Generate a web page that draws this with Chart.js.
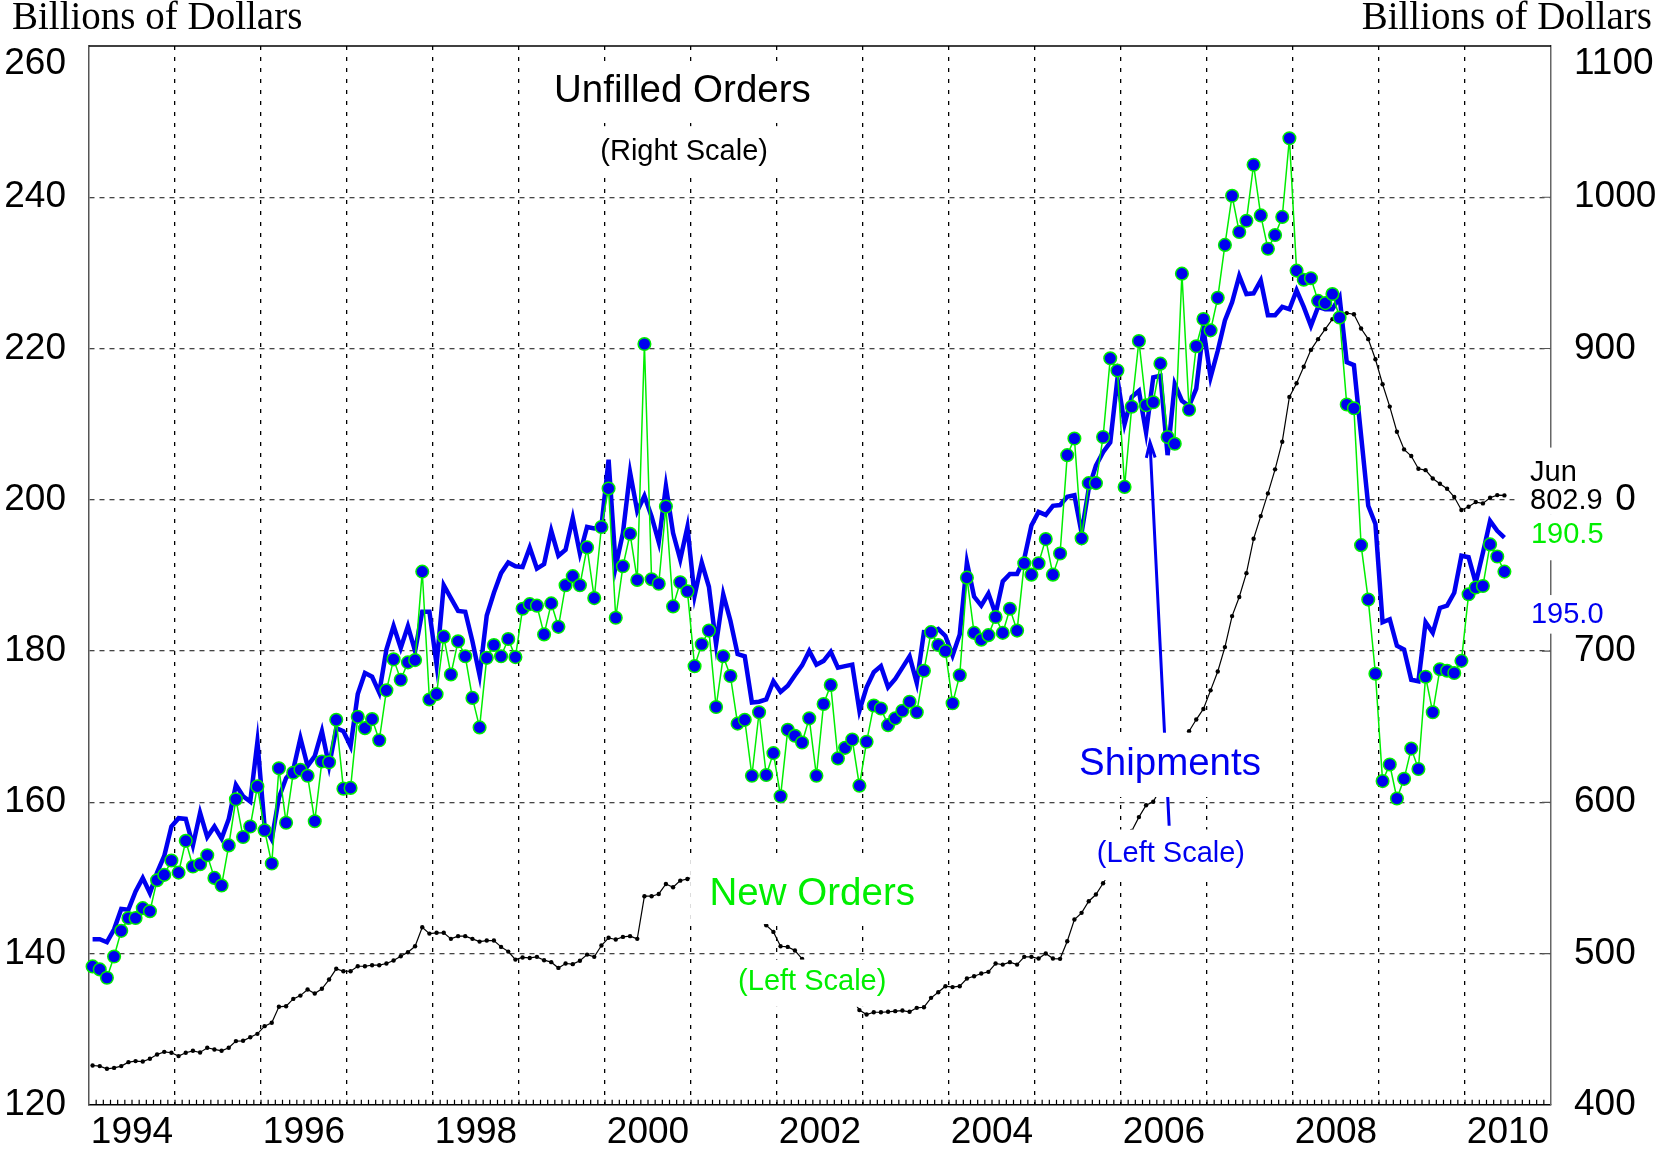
<!DOCTYPE html>
<html>
<head>
<meta charset="utf-8">
<title>Unfilled Orders, New Orders and Shipments</title>
<script src="https://cdn.jsdelivr.net/npm/chart.js@4.4.0/dist/chart.umd.min.js"></script>
<style>
  html, body { margin: 0; padding: 0; background: #fff; }
  #wrap { width: 1660px; height: 1150px; }
</style>
</head>
<body>
<div id="wrap"><canvas id="chart" width="1660" height="1150"></canvas></div>
<script>
// Monthly series, Jan 1994 - Jun 2010, billions of dollars
const firstYear = 1994;
const monthNames = ['Jan', 'Feb', 'Mar', 'Apr', 'May', 'Jun', 'Jul', 'Aug', 'Sep', 'Oct', 'Nov', 'Dec'];

// New Orders (left scale)
const newOrders = [
    138.3, 137.9, 136.8, 139.6, 143.0, 144.7, 144.7, 146.0, 145.6, 149.7, 150.4, 152.3,
    150.7, 154.9, 151.5, 151.8, 153.0, 150.0, 149.0, 154.3, 160.4, 155.4, 156.8, 162.1,
    156.3, 151.9, 164.5, 157.3, 163.9, 164.3, 163.5, 157.5, 165.4, 165.3, 170.9, 161.8,
    161.9, 171.3, 169.8, 171.0, 168.2, 174.8, 178.9, 176.2, 178.5, 178.8, 190.5, 173.6,
    174.3, 181.9, 176.9, 181.3, 179.3, 173.8, 169.9, 179.1, 180.8, 179.3, 181.6, 179.2,
    185.6, 186.2, 186.0, 182.2, 186.3, 183.2, 188.7, 189.9, 188.7, 193.7, 187.0, 196.4,
    201.5, 184.4, 191.2, 195.5, 189.4, 220.6, 189.5, 188.9, 199.1, 185.9, 189.1, 187.9,
    178.0, 180.9, 182.7, 172.6, 179.3, 176.7, 170.4, 170.9, 163.5, 171.9, 163.6, 166.5,
    160.8, 169.6, 168.8, 167.9, 171.1, 163.5, 173.0, 175.5, 165.8, 167.2, 168.3, 162.2,
    168.0, 172.8, 172.4, 170.2, 171.1, 172.1, 173.3, 171.9, 177.4, 182.5, 180.8, 180.0,
    173.1, 176.8, 189.7, 182.4, 181.5, 182.1, 184.5, 182.4, 185.6, 182.7, 191.6, 190.1,
    191.6, 194.8, 190.1, 192.9, 205.9, 208.1, 194.9, 202.2, 202.2, 208.3, 218.7, 217.1,
    201.7, 212.3, 221.0, 212.5, 212.9, 218.0, 208.3, 207.4, 229.9, 211.9, 220.3, 223.9,
    222.4, 226.7, 233.7, 240.2, 235.4, 236.9, 244.3, 237.6, 233.2, 235.0, 237.4, 247.8,
    230.3, 229.1, 229.3, 226.3, 226.0, 227.2, 224.1, 212.6, 212.1, 194.0, 186.8, 177.0,
    162.8, 165.0, 160.5, 163.1, 167.1, 164.4, 176.6, 171.9, 177.6, 177.4, 177.1, 178.7,
    187.5, 188.4, 188.6, 194.1, 192.5, 190.5
];

// Shipments (left scale)
const shipments = [
    141.9, 141.9, 141.5, 143.2, 145.9, 145.8, 148.2, 150.0, 148.0, 150.7, 152.9, 156.8,
    157.9, 157.8, 154.3, 158.6, 155.4, 156.8, 155.2, 157.8, 162.3, 160.8, 160.1, 168.0,
    156.8, 155.1, 160.6, 163.2, 164.3, 168.5, 164.8, 166.1, 169.4, 164.8, 169.8, 169.4,
    167.4, 174.3, 177.1, 176.6, 174.5, 180.2, 183.3, 180.4, 183.3, 180.0, 185.2, 185.2,
    178.2, 188.7, 187.0, 185.3, 185.2, 181.3, 176.8, 184.7, 187.7, 190.3, 191.7, 191.2,
    191.1, 193.7, 190.9, 191.5, 195.9, 192.6, 193.4, 197.6, 192.9, 196.4, 196.2, 196.5,
    205.3, 191.2, 195.6, 203.6, 198.5, 200.5, 197.8, 194.4, 201.8, 195.6, 192.1, 196.4,
    187.3, 191.7, 188.5, 180.9, 187.5, 184.0, 179.6, 179.3, 173.2, 173.3, 173.6, 176.0,
    174.6, 175.4, 176.8, 178.1, 180.0, 178.2, 178.7, 179.9, 177.8, 178.0, 178.2, 172.1,
    175.2, 177.2, 178.0, 175.2, 176.3, 177.8, 179.3, 175.8, 182.5, 182.4, 182.9, 182.0,
    179.4, 182.2, 191.7, 187.2, 186.0, 187.6, 184.9, 189.2, 190.2, 190.2, 192.2, 196.6,
    198.4, 198.0, 199.2, 199.3, 200.4, 200.6, 195.6, 201.5, 204.5, 206.3, 207.6, 216.0,
    210.0, 213.6, 214.4, 208.9, 216.2, 216.4, 205.9, 215.3, 213.1, 212.4, 214.7, 222.6,
    216.2, 219.7, 223.7, 226.1, 229.6, 227.2, 227.3, 229.0, 224.4, 224.4, 225.5, 225.2,
    227.7, 225.5, 223.0, 225.5, 225.2, 225.2, 226.8, 218.2, 217.8, 208.5, 199.2, 196.8,
    183.8, 184.2, 180.7, 180.2, 176.2, 176.0, 183.8, 182.4, 185.7, 186.0, 187.7, 192.6,
    192.4, 189.0, 193.0, 197.2, 195.9, 195.0
];

// Unfilled Orders (right scale)
const unfilledOrders = [
    426.0, 425.6, 423.8, 424.4, 425.6, 428.2, 428.9, 428.6, 430.4, 433.3, 435.0, 434.4,
    432.2, 434.4, 435.7, 434.6, 437.7, 436.6, 435.7, 437.7, 442.1, 442.3, 444.7, 446.9,
    452.0, 454.2, 464.8, 465.2, 470.0, 472.2, 476.2, 473.6, 476.7, 482.8, 489.9, 488.3,
    488.3, 491.6, 491.6, 492.3, 492.3, 493.4, 495.4, 498.2, 500.9, 504.8, 517.4, 513.2,
    513.7, 513.7, 509.7, 511.5, 511.5, 509.7, 507.9, 508.6, 508.6, 504.4, 501.3, 496.0,
    497.4, 497.1, 497.8, 495.6, 494.3, 490.5, 493.4, 493.0, 495.2, 499.3, 497.8, 505.3,
    510.4, 509.3, 511.0, 511.5, 509.7, 537.9, 537.9, 539.4, 546.0, 543.8, 548.2, 549.3,
    551.0, 553.0, 552.0, 550.0, 547.0, 543.0, 538.0, 532.0, 526.0, 522.0, 518.7, 514.3,
    504.8, 504.4, 502.0, 496.5, 493.0, 489.0, 485.0, 481.0, 477.0, 473.0, 470.0, 462.6,
    459.7, 461.2, 461.2, 461.5, 461.9, 462.3, 461.5, 464.1, 464.5, 470.7, 474.4, 478.4,
    477.8, 478.4, 483.5, 485.0, 486.8, 487.9, 493.4, 492.7, 494.3, 492.7, 497.8, 497.8,
    496.7, 500.0, 496.7, 496.5, 508.1, 522.5, 526.9, 534.6, 539.0, 546.5, 554.0, 563.0,
    572.0, 581.0, 590.2, 598.0, 600.4, 609.0, 619.0, 628.0, 638.0, 647.0, 654.7, 661.7,
    674.0, 686.5, 702.6, 723.1, 735.7, 751.5, 774.2, 789.2, 804.2, 820.1, 838.4, 868.0,
    877.0, 887.9, 899.1, 906.2, 912.8, 919.4, 923.4, 923.4, 922.7, 913.2, 906.2, 892.9,
    876.4, 861.6, 845.0, 833.3, 828.9, 820.5, 819.6, 814.1, 810.6, 807.3, 801.8, 793.2,
    795.4, 798.5, 797.6, 801.3, 803.1, 802.9
];

// Axis ticks
const yearTicks = [1994, 1995, 1996, 1997, 1998, 1999, 2000, 2001, 2002, 2003,
                   2004, 2005, 2006, 2007, 2008, 2009, 2010, 2011];
const yearLabels = [1994, 1996, 1998, 2000, 2002, 2004, 2006, 2008, 2010];
const leftTicks = [120, 140, 160, 180, 200, 220, 240, 260];
const rightTicks = [400, 500, 600, 700, 800, 900, 1000, 1100];

const GREEN = '#00ee00';
const BLUE = '#0000f0';
const SANS = "'Liberation Sans', Arial, sans-serif";
const SERIF = "'Liberation Serif', 'Times New Roman', serif";

Chart.defaults.font.family = SANS;
Chart.defaults.color = '#000';

// month i is plotted in the middle of its month
const toPoints = arr => arr.map((v, i) => ({ x: firstYear + (i + 0.5) / 12, y: v }));

const lastIdx = unfilledOrders.length - 1;

// text notes, anchored in (year, left-scale value)
const notes = [
    { text: 'Unfilled Orders', x: 2000.90, y: 252.6, size: 38.5, color: '#000', align: 'center' },
    { text: '(Right Scale)', x: 2000.92, y: 244.9, size: 29, color: '#000', align: 'center' },
    { text: 'New Orders', x: 2002.41, y: 146.4, size: 38.5, color: GREEN, align: 'center' },
    { text: '(Left Scale)', x: 2002.41, y: 135.2, size: 29, color: GREEN, align: 'center' },
    { text: 'Shipments', x: 2006.57, y: 163.6, size: 38.5, color: BLUE, align: 'center' },
    { text: '(Left Scale)', x: 2006.58, y: 152.1, size: 29, color: BLUE, align: 'center' },
    { text: monthNames[lastIdx % 12], x: 2010.756, y: 202.5, size: 29, color: '#000', align: 'left' },
    { text: unfilledOrders[lastIdx].toFixed(1), x: 2010.756, y: 198.8, size: 29, color: '#000', align: 'left' },
    { text: newOrders[lastIdx].toFixed(1), x: 2010.767, y: 194.3, size: 29, color: GREEN, align: 'left' },
    { text: shipments[lastIdx].toFixed(1), x: 2010.767, y: 183.7, size: 29, color: BLUE, align: 'left' }
];

// white boxes behind the notes: [x0, x1, yTop, yBottom] in (year, left value)
const noteBoxes = [
    [1999.34, 2002.48, 257.9, 249.95],
    [1999.83, 2002.04, 249.4, 242.6],
    [2000.99, 2003.77, 152.4, 143.9],
    [2001.43, 2003.37, 139.2, 132.95],
    [2005.41, 2007.73, 169.2, 160.7],
    [2005.66, 2007.50, 156.4, 149.7],
    [2010.58, 2011.75, 206.9, 198.0],
    [2010.58, 2011.75, 198.0, 192.0],
    [2010.58, 2011.66, 187.4, 182.3]
];

// arrow from "Shipments" up to the line: tail and tip in (year, left value)
const arrowTail = { x: 2006.56, y: 156.9 };
const arrowTip = { x: 2006.337, y: 207.6 };

const decorations = {
    id: 'decorations',
    beforeDraw(chart) {
        const ctx = chart.ctx;
        ctx.save();
        ctx.fillStyle = '#fff';
        ctx.fillRect(0, 0, chart.width, chart.height);
        ctx.restore();
    },
    afterDraw(chart) {
        const { ctx, chartArea: a } = chart;
        const xs = chart.scales.x, ys = chart.scales.y, ys2 = chart.scales.y2;
        const px = v => xs.getPixelForValue(v);
        const py = v => ys.getPixelForValue(v);

        ctx.save();

        // top frame line
        ctx.strokeStyle = '#000';
        ctx.lineWidth = 1.5;
        ctx.beginPath();
        ctx.moveTo(a.left, a.top);
        ctx.lineTo(a.right, a.top);
        ctx.stroke();

        // monthly minor ticks on the bottom axis
        ctx.lineWidth = 1.2;
        ctx.beginPath();
        for (let m = 1; m < (yearTicks.length - 1) * 12; m++) {
            const x = px(firstYear + m / 12);
            ctx.moveTo(x, a.bottom);
            ctx.lineTo(x, a.bottom - 5);
        }
        ctx.stroke();

        // short inward ticks on the right axis
        ctx.strokeStyle = '#555';
        ctx.beginPath();
        rightTicks.slice(1, -1).forEach(v => {
            const y = ys2.getPixelForValue(v);
            ctx.moveTo(a.right - 9, y);
            ctx.lineTo(a.right, y);
        });
        ctx.stroke();

        // arrow
        const tx = px(arrowTip.x), ty = py(arrowTip.y);
        const sx = px(arrowTail.x), sy = py(arrowTail.y);
        const ang = Math.atan2(sy - ty, sx - tx);
        ctx.strokeStyle = BLUE;
        ctx.lineWidth = 3;
        ctx.beginPath();
        ctx.moveTo(sx, sy);
        ctx.lineTo(tx, ty);
        ctx.moveTo(tx + 16 * Math.cos(ang - 0.28), ty + 16 * Math.sin(ang - 0.28));
        ctx.lineTo(tx, ty);
        ctx.lineTo(tx + 16 * Math.cos(ang + 0.28), ty + 16 * Math.sin(ang + 0.28));
        ctx.stroke();

        // white boxes under the notes
        ctx.fillStyle = '#fff';
        noteBoxes.forEach(b => {
            const x0 = px(b[0]), x1 = px(b[1]), y0 = py(b[2]), y1 = py(b[3]);
            ctx.fillRect(x0, y0, x1 - x0, y1 - y0);
        });

        // notes
        ctx.textBaseline = 'alphabetic';
        notes.forEach(n => {
            ctx.font = n.size + 'px ' + SANS;
            ctx.fillStyle = n.color;
            ctx.textAlign = n.align;
            ctx.fillText(n.text, px(n.x), py(n.y));
        });

        // top tick labels sit inside the axis height
        ctx.font = '37px ' + SANS;
        ctx.fillStyle = '#000';
        ctx.textAlign = 'right';
        ctx.fillText(String(leftTicks[leftTicks.length - 1]), a.left - 23, py(leftTicks[leftTicks.length - 1]) + 28);
        ctx.textAlign = 'left';
        ctx.fillText(String(rightTicks[rightTicks.length - 1]), a.right + 23, ys2.getPixelForValue(rightTicks[rightTicks.length - 1]) + 28);

        // unit titles
        ctx.font = '39px ' + SERIF;
        ctx.textAlign = 'left';
        ctx.fillText('Billions of Dollars', 12, 29);
        ctx.textAlign = 'right';
        ctx.fillText('Billions of Dollars', chart.width - 8, 29);

        ctx.restore();
    }
};

const edgeTick = (ctx, lo, hi) => ctx.tick && (ctx.tick.value === lo || ctx.tick.value === hi);

new Chart(document.getElementById('chart'), {
    type: 'line',
    data: {
        datasets: [
            {
                label: 'New Orders',
                data: toPoints(newOrders),
                yAxisID: 'y',
                borderColor: GREEN,
                borderWidth: 1.5,
                pointRadius: 6.3,
                pointBackgroundColor: BLUE,
                pointBorderColor: GREEN,
                pointBorderWidth: 1.5,
                tension: 0,
                clip: false
            },
            {
                label: 'Shipments',
                data: toPoints(shipments),
                yAxisID: 'y',
                borderColor: BLUE,
                borderWidth: 4.5,
                borderJoinStyle: 'miter',
                pointRadius: 0,
                tension: 0,
                clip: false
            },
            {
                label: 'Unfilled Orders',
                data: toPoints(unfilledOrders),
                yAxisID: 'y2',
                borderColor: '#000',
                borderWidth: 1.2,
                pointRadius: 2.2,
                pointBackgroundColor: '#000',
                pointBorderWidth: 0,
                tension: 0,
                clip: false
            }
        ]
    },
    options: {
        responsive: false,
        devicePixelRatio: 1,
        animation: false,
        events: [],
        layout: { padding: { top: 46, left: 0, right: 0, bottom: 0 } },
        plugins: {
            legend: { display: false },
            tooltip: { enabled: false },
            title: { display: false }
        },
        scales: {
            x: {
                type: 'linear',
                min: yearTicks[0],
                max: yearTicks[yearTicks.length - 1],
                afterBuildTicks: s => { s.ticks = yearTicks.map(v => ({ value: v })); },
                afterFit: s => { s.height = 45; },
                grid: {
                    color: ctx => edgeTick(ctx, yearTicks[0], yearTicks[yearTicks.length - 1]) ? 'rgba(0,0,0,0)' : '#000',
                    lineWidth: 1.3,
                    drawTicks: false
                },
                border: { display: true, color: '#000', width: 1.5, dash: [4, 7] },
                ticks: {
                    callback: v => yearLabels.includes(v) ? String(v) : '',
                    font: { size: 37 },
                    color: '#000',
                    padding: 6,
                    labelOffset: 43,
                    autoSkip: false,
                    maxRotation: 0
                }
            },
            y: {
                position: 'left',
                min: leftTicks[0],
                max: leftTicks[leftTicks.length - 1],
                afterBuildTicks: s => { s.ticks = leftTicks.map(v => ({ value: v })); },
                afterFit: s => { s.width = 89; },
                grid: {
                    color: ctx => edgeTick(ctx, leftTicks[0], leftTicks[leftTicks.length - 1]) ? 'rgba(0,0,0,0)' : '#444',
                    lineWidth: 1.3,
                    drawTicks: false
                },
                border: { display: true, color: '#555', width: 1.5, dash: [5, 5] },
                ticks: {
                    callback: v => v === leftTicks[leftTicks.length - 1] ? '' : String(v),
                    font: { size: 37 },
                    color: '#000',
                    padding: 23
                }
            },
            y2: {
                position: 'right',
                min: rightTicks[0],
                max: rightTicks[rightTicks.length - 1],
                afterBuildTicks: s => { s.ticks = rightTicks.map(v => ({ value: v })); },
                afterFit: s => { s.width = 109; },
                grid: { display: false, drawTicks: false },
                border: { display: true, color: '#666', width: 1.5 },
                ticks: {
                    callback: v => v === rightTicks[rightTicks.length - 1] ? '' : String(v),
                    font: { size: 37 },
                    color: '#000',
                    padding: 23
                }
            }
        }
    },
    plugins: [decorations]
});
</script>
</body>
</html>
